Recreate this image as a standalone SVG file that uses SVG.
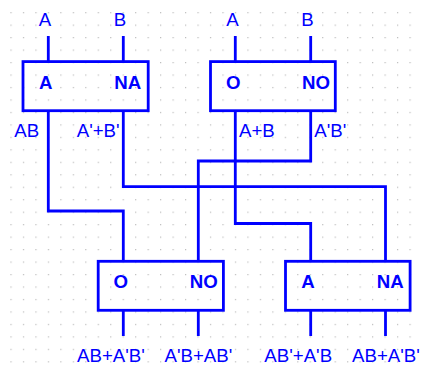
<svg xmlns="http://www.w3.org/2000/svg" width="422" height="365" viewBox="0 0 422 365">
<defs>
<pattern id="grid" x="10.4" y="12.1" width="12.47" height="12.47" patternUnits="userSpaceOnUse"><rect width="1.2" height="1.2" fill="#bcbcbc"/></pattern>
</defs>
<style>
.box{fill:none;stroke:#0000ff;stroke-width:2.8}
.w{fill:none;stroke:#0000ff;stroke-width:2.8}
text{font-family:"Liberation Sans",Arial,sans-serif;fill:#0000ff;font-size:18.67px}
.g{font-weight:bold;text-anchor:middle}
</style>
<rect width="422" height="365" fill="#ffffff"/>
<rect x="10" y="12" width="403" height="351" fill="url(#grid)"/>
<g id="connectors">
<path class="w" d="M48.3 36V61.6M123.3 36V61.6M235.3 36V61.6M310.7 36V61.6"/>
<path class="w" d="M48.3 110.7V211H123.3V261.3"/>
<path class="w" d="M123.3 110.7V186.7H385.5V261.3"/>
<path class="w" d="M235.3 110.7V223.5H310.7V261.3"/>
<path class="w" d="M310.7 110.7V161H198.3V261.3"/>
<path class="w" d="M123.3 310.3V336M198.3 310.3V336M310.7 310.3V336M385.5 310.3V336"/>
</g>
<g id="inA"><text x="45" y="26" text-anchor="middle">A</text></g>
<g id="inB"><text x="120" y="26" text-anchor="middle">B</text></g>
<g id="inA2"><text x="232.5" y="26" text-anchor="middle">A</text></g>
<g id="inB2"><text x="307.5" y="26" text-anchor="middle">B</text></g>
<g id="gate-and"><rect class="box" x="23" y="61.6" width="125.2" height="49.1"/><text class="g" x="45.7" y="88.5">A</text><text class="g" x="127.8" y="88.5">NA</text></g>
<g id="gate-or"><rect class="box" x="210.5" y="61.6" width="124.8" height="49.1"/><text class="g" x="233.3" y="88.5">O</text><text class="g" x="316" y="88.5">NO</text></g>
<g id="gate-or2"><rect class="box" x="98.2" y="261.3" width="125.2" height="49"/><text class="g" x="120.7" y="288">O</text><text class="g" x="203.7" y="288">NO</text></g>
<g id="gate-and2"><rect class="box" x="285.5" y="261.3" width="124.6" height="49"/><text class="g" x="308" y="288">A</text><text class="g" x="390.3" y="288">NA</text></g>
<g id="labels">
<text x="14.3" y="137.3">AB</text>
<text x="76.7" y="137.3">A'+B'</text>
<text x="239" y="137.3">A+B</text>
<text x="314.3" y="137.3">A'B'</text>
<text x="77" y="361.5">AB+A'B'</text>
<text x="164.5" y="361.5">A'B+AB'</text>
<text x="264.3" y="361.5">AB'+A'B</text>
<text x="352" y="361.5">AB+A'B'</text>
</g>
</svg>
